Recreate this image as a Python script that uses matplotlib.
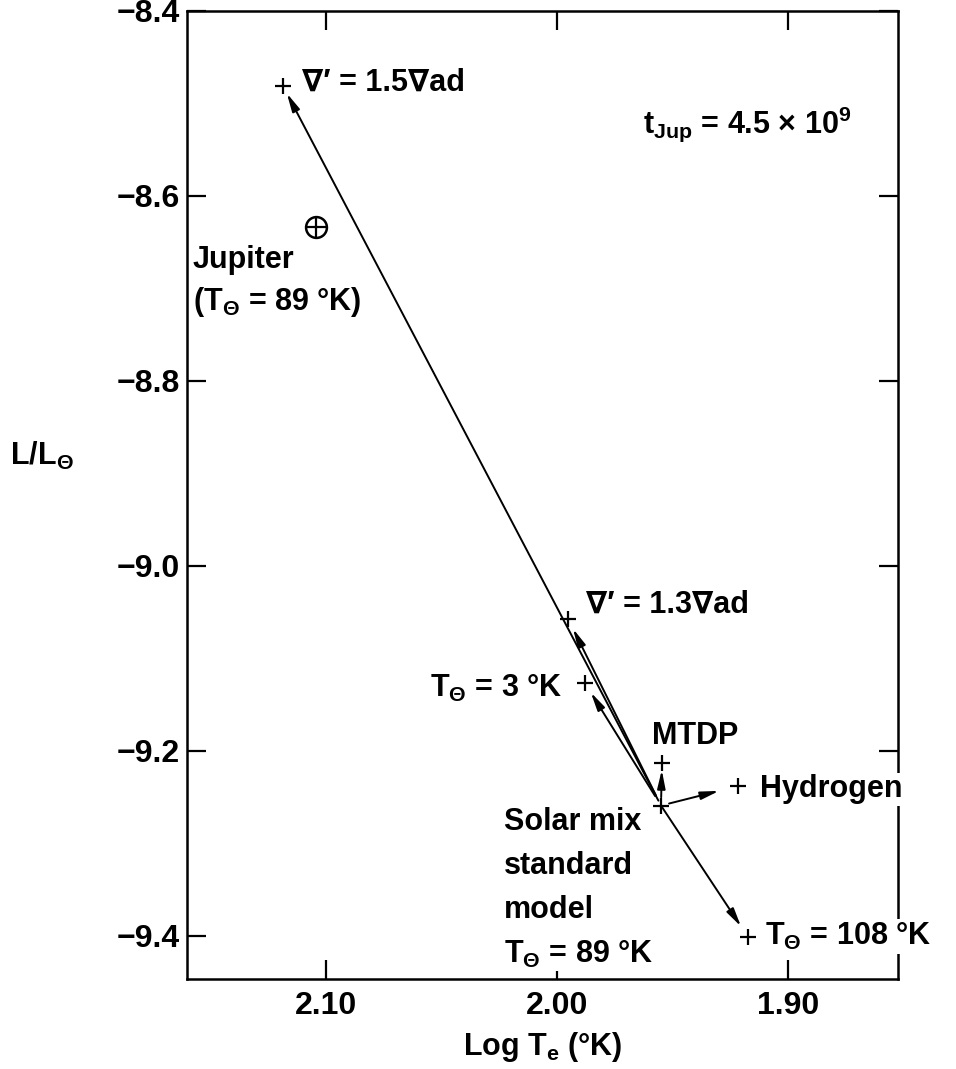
import matplotlib
matplotlib.use("Agg")
import matplotlib.pyplot as plt

# ---------------- data ----------------
model_names = ["standard", "grad15", "grad13", "T3", "MTDP", "Hydrogen", "T108"]
log_te = [1.955, 2.1185, 1.9952, 1.9879, 1.9546, 1.9217, 1.9174]
log_l = [-9.259, -8.481, -9.057, -9.1265, -9.213, -9.238, -9.401]
jupiter_te = [2.1042]
jupiter_l = [-8.6335]
x_ticks = [2.10, 2.00, 1.90]
x_tick_labels = ["2.10", "2.00", "1.90"]
y_ticks = [-8.4, -8.6, -8.8, -9.0, -9.2, -9.4]
y_tick_labels = ["\u22128.4", "\u22128.6", "\u22128.8", "\u22129.0", "\u22129.2", "\u22129.4"]

# ---------------- style ----------------
plt.rcParams["font.family"] = ["Liberation Sans", "DejaVu Sans"]
plt.rcParams["font.weight"] = "bold"
plt.rcParams["mathtext.fontset"] = "custom"
plt.rcParams["mathtext.rm"] = "Liberation Sans:bold"
plt.rcParams["mathtext.bf"] = "Liberation Sans:bold"
plt.rcParams["mathtext.it"] = "Liberation Sans:bold"
plt.rcParams["mathtext.sf"] = "Liberation Sans:bold"
plt.rcParams["mathtext.fallback"] = "stixsans"

FS = 22
TFS = 23
W, H = 956, 1069
fig = plt.figure(figsize=(W / 100, H / 100), dpi=100)
L, R, B, T = 187, 898, 979, 11
ax = fig.add_axes([L / W, 1 - B / H, (R - L) / W, (B - T) / H])
ax.set_xlim(2.16, 1.8525)
ax.set_ylim(-9.4465, -8.4)

for s in ax.spines.values():
    s.set_linewidth(1.8)
ax.set_xticks(x_ticks)
ax.set_xticklabels(x_tick_labels, fontsize=TFS, fontweight="bold")
ax.set_yticks(y_ticks)
ax.set_yticklabels(y_tick_labels, fontsize=TFS, fontweight="bold")
ax.tick_params(direction="in", length=14, width=1.6, top=True, right=True)
ax.tick_params(axis="x", pad=9)
ax.tick_params(axis="y", pad=5)

# ---------------- evolution arrows from the standard model ----------------
x0, y0 = log_te[0], log_l[0]
shrinks = {"grad15": (4, 6), "grad13": (8, 8), "T3": (8, 8), "MTDP": (6, 5),
           "Hydrogen": (6, 14), "T108": (1, 9)}
for name, xt, yt in zip(model_names[1:], log_te[1:], log_l[1:]):
    sa, sb = shrinks[name]
    ax.annotate("", xy=(xt, yt), xytext=(x0, y0),
                arrowprops=dict(arrowstyle="-|>,head_length=0.55,head_width=0.12",
                                mutation_scale=20, lw=1.4, color="black",
                                shrinkA=sa, shrinkB=sb))

# model points
ax.plot(log_te, log_l, linestyle="none", marker="+", ms=11, mew=1.6, color="black", zorder=4)

# Jupiter symbol
ax.plot(jupiter_te, jupiter_l, linestyle="none", marker="o", ms=15, mfc="none",
        mec="black", mew=1.8, zorder=4)
ax.plot(jupiter_te, jupiter_l, linestyle="none", marker="+", ms=15, mew=1.6,
        color="black", zorder=4)

# ---------------- labels ----------------
def lab(text, idx=None, pt=None, dx=0, dy=0, ha="left", bg=False):
    xy = (log_te[idx], log_l[idx]) if idx is not None else pt
    kw = {}
    if bg:
        kw["bbox"] = dict(boxstyle="square,pad=0.05", fc="white", ec="none")
    ax.annotate(text, xy=xy, xytext=(dx, dy), textcoords="offset pixels",
                ha=ha, va="baseline", fontsize=FS, fontweight="bold",
                annotation_clip=False, zorder=5, **kw)

lab("\u2207\u2032 = 1.5\u2207ad", 1, dx=19, dy=-5)
lab("\u2207\u2032 = 1.3\u2207ad", 2, dx=18, dy=6)
lab(r"T$_{\Theta}$ = 3 °K", 3, dx=-22, dy=-14, ha="right")
lab("MTDP", 4, dx=-10, dy=19)
lab("Hydrogen", 5, dx=22, dy=-11, bg=True)
lab(r"T$_{\Theta}$ = 108 °K", 6, dx=17, dy=-8, bg=True)
lab("Solar mix", 0, dx=-157, dy=-24)
lab("standard", 0, dx=-157, dy=-68)
lab("model", 0, dx=-157, dy=-112)
lab(r"T$_{\Theta}$ = 89 °K", 0, dx=-157, dy=-157, bg=True)
jp = (jupiter_te[0], jupiter_l[0])
lab("Jupiter", pt=jp, dx=-123, dy=-41)
lab(r"(T$_{\Theta}$ = 89 °K)", pt=jp, dx=-123, dy=-83)

ax.text((643 - L) / (R - L), (B - 133) / (B - T), r"t$_{\mathbf{Jup}}$ = 4.5 × 10$^{9}$",
        transform=ax.transAxes, ha="left", va="baseline", fontsize=FS, fontweight="bold")

fig.text(10 / W, 1 - 465 / H, r"L/L$_{\Theta}$", ha="left", va="baseline",
         fontsize=FS, fontweight="bold")
fig.text(463 / W, 1 - 1055 / H, r"Log T$_{\mathbf{e}}$ (°K)", ha="left", va="baseline",
         fontsize=FS, fontweight="bold")

fig.savefig("out.png", dpi=100)
